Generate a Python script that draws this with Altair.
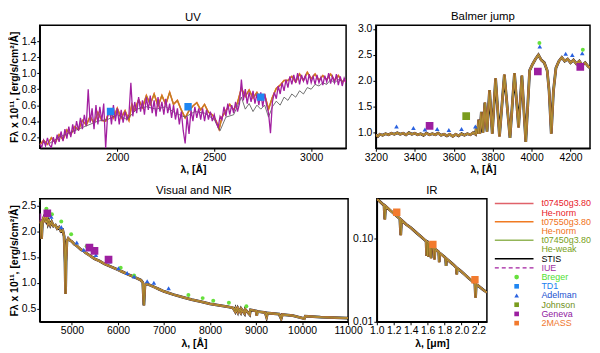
import altair as alt
import pandas as pd

FONT = "Liberation Sans"

# ---------------- colours ----------------
C_RED = "#e0626a"
C_ORANGE = "#f07a22"
C_GREEN = "#93b558"
C_STIS = "#000000"
C_IUE = "#a21fa0"
C_BREGER = "#66e03c"
C_TD1 = "#1f86f2"
C_ADEL = "#2a62e0"
C_JOHN = "#7a9c1e"
C_GENEVA = "#9c1fa0"
C_2MASS = "#f27a2e"

# ---------------- UV panel data ----------------
uv_iue_wl = [1600, 1610, 1620, 1630, 1640, 1650, 1660, 1670, 1680, 1690, 1700, 1710, 1720, 1730, 1740,
             1750, 1760, 1770, 1780, 1790, 1800, 1810, 1820, 1830, 1840, 1850, 1860, 1870, 1880, 1890,
             1900, 1910, 1920, 1930, 1940, 1950, 1960, 1970, 1980, 1990, 2000, 2010, 2020, 2030, 2040,
             2050, 2060, 2070, 2080, 2090, 2100, 2110, 2120, 2130, 2140, 2150, 2160, 2170, 2180, 2190,
             2200, 2210, 2220, 2230, 2240, 2250, 2260, 2270, 2280, 2290, 2300, 2310, 2320, 2330, 2340,
             2350, 2360, 2370, 2380, 2390, 2400, 2410, 2420, 2430, 2440, 2450, 2460, 2470, 2480, 2490,
             2500, 2510, 2520, 2530, 2540, 2550, 2560, 2570, 2580, 2590, 2600, 2610, 2620, 2630, 2640,
             2650, 2660, 2670, 2680, 2690, 2700, 2710, 2720, 2730, 2740, 2750, 2760, 2770, 2780, 2790,
             2800, 2810, 2820, 2830, 2840, 2850, 2860, 2870, 2880, 2890, 2900, 2910, 2920, 2930, 2940,
             2950, 2960, 2970, 2980, 2990, 3000, 3010, 3020, 3030, 3040, 3050, 3060, 3070, 3080, 3090,
             3100, 3110, 3120, 3130, 3140, 3150, 3160, 3170, 3180]
uv_iue_f = [0.12, 0.07, 0.16, 0.09, 0.19, 0.10, 0.07, 0.20, 0.11, 0.23, 0.14, 0.27, 0.15, 0.30, 0.18,
            0.33, 0.20, 0.36, 0.24, 0.40, 0.28, 0.44, 0.30, 0.48, 0.34, 0.80, 0.38, 0.56, 0.30, 0.60,
            0.36, 0.58, 0.40, 0.62, 0.06, 0.48, 0.56, 0.36, 0.60, 0.40, 0.56, 0.36, 0.54, 0.38, 0.52,
            0.42, 0.48, 0.88, 0.46, 0.64, 0.50, 0.70, 0.52, 0.66, 0.48, 0.70, 0.54, 0.72, 0.50, 0.66,
            0.46, 0.70, 0.52, 0.64, 0.48, 0.68, 0.50, 0.62, 0.44, 0.60, 0.42, 0.56, 0.36, 0.52, 0.28,
            0.12, 0.46, 0.24, 0.54, 0.40, 0.58, 0.44, 0.56, 0.42, 0.56, 0.40, 0.54, 0.42, 0.52, 0.40,
            0.48, 0.38, 0.32, 0.46, 0.42, 0.58, 0.46, 0.62, 0.48, 0.60, 0.50, 0.64, 0.52, 0.62, 0.92,
            0.66, 0.80, 0.62, 0.76, 0.64, 0.78, 0.62, 0.74, 0.60, 0.76, 0.58, 0.74, 0.60, 0.50, 0.25,
            0.64, 0.76, 0.68, 0.84, 0.74, 0.88, 0.78, 0.92, 0.82, 0.96, 0.86, 0.98, 0.88, 1.00, 0.86,
            0.98, 0.90, 0.97, 0.86, 0.99, 0.88, 0.96, 0.86, 0.98, 0.88, 0.95, 0.85, 0.97, 0.89, 1.00,
            0.87, 0.96, 0.88, 0.99, 0.85, 0.96, 0.84, 0.94, 0.88]

uv_model_wl = [1600, 1620, 1640, 1660, 1680, 1700, 1720, 1740, 1760, 1780, 1800, 1820, 1840, 1860, 1880,
               1900, 1920, 1940, 1960, 1980, 2000, 2020, 2040, 2060, 2075, 2090, 2110, 2130, 2150, 2170,
               2190, 2210, 2230, 2250, 2270, 2290, 2310, 2330, 2350, 2370, 2390, 2410, 2430, 2450, 2470,
               2490, 2510, 2525, 2540, 2560, 2580, 2600, 2620, 2640, 2660, 2680, 2700, 2720, 2740, 2760,
               2780, 2800, 2820, 2840, 2860, 2880, 2900, 2920, 2940, 2960, 2980, 3000, 3020, 3040, 3060,
               3080, 3100, 3120, 3140, 3160, 3180]
uv_model_f = [0.10, 0.16, 0.11, 0.19, 0.13, 0.23, 0.17, 0.29, 0.23, 0.33, 0.29, 0.41, 0.35, 0.46, 0.37,
              0.51, 0.41, 0.40, 0.53, 0.44, 0.56, 0.44, 0.53, 0.41, 0.61, 0.54, 0.67, 0.57, 0.72, 0.61,
              0.74, 0.59, 0.72, 0.61, 0.76, 0.61, 0.66, 0.54, 0.44, 0.53, 0.59, 0.63, 0.54, 0.61, 0.51,
              0.48, 0.40, 0.30, 0.45, 0.53, 0.61, 0.54, 0.63, 0.81, 0.71, 0.79, 0.69, 0.76, 0.67, 0.73,
              0.55, 0.70, 0.81, 0.85, 0.91, 0.91, 0.96, 0.89, 0.99, 0.91, 1.01, 0.93, 0.99, 0.91, 0.97,
              0.92, 0.99, 0.91, 0.97, 0.89, 0.92]

uv_stis_wl = [1650, 1700, 1750, 1800, 1850, 1900, 1950, 2000, 2050, 2100, 2150, 2200, 2250, 2300, 2350,
              2400, 2450, 2500, 2530, 2560, 2600, 2640, 2660, 2680, 2700, 2720, 2740, 2760, 2780, 2800,
              2820, 2840, 2860, 2880, 2900, 2920, 2940, 2960, 2980, 3000, 3020, 3040, 3060, 3080, 3100,
              3120, 3140, 3160, 3180]
uv_stis_f = [0.12, 0.20, 0.25, 0.30, 0.35, 0.40, 0.42, 0.48, 0.42, 0.55, 0.58, 0.55, 0.58, 0.50, 0.45,
             0.52, 0.50, 0.42, 0.28, 0.45, 0.48, 0.70, 0.55, 0.62, 0.52, 0.60, 0.55, 0.60, 0.45, 0.58,
             0.65, 0.60, 0.70, 0.66, 0.74, 0.70, 0.78, 0.74, 0.82, 0.80, 0.86, 0.84, 0.88, 0.86, 0.92,
             0.88, 0.92, 0.90, 0.93]

# ---------------- Balmer jump panel data ----------------
bj_model_wl = [3200, 3210, 3220, 3235, 3250, 3265, 3280, 3295, 3310, 3325, 3340, 3355, 3370, 3385, 3400,
               3415, 3430, 3445, 3460, 3475, 3490, 3505, 3520, 3535, 3550, 3565, 3580, 3595, 3610, 3625,
               3640, 3655, 3670, 3685, 3700, 3712, 3717, 3722, 3728, 3734, 3742, 3750, 3760, 3771, 3784,
               3798, 3815, 3835, 3860, 3889, 3912, 3933, 3950, 3970, 3990, 4005, 4020, 4035, 4050, 4065,
               4080, 4090, 4101, 4112, 4125, 4140, 4155, 4170, 4185, 4200, 4215, 4230, 4245, 4260, 4275,
               4290, 4300]
bj_model_f = [0.96, 0.93, 0.97, 0.95, 0.98, 0.96, 0.99, 0.97, 1.00, 0.97, 0.99, 0.96, 1.00, 0.97, 0.99,
              0.96, 0.98, 0.95, 0.99, 0.96, 0.98, 0.96, 0.99, 0.95, 0.97, 0.94, 0.97, 0.93, 0.97, 0.94,
              0.98, 0.95, 0.98, 0.96, 1.00, 0.97, 1.12, 0.98, 1.25, 0.98, 1.40, 1.00, 1.58, 1.02, 1.82,
              0.98, 2.05, 0.93, 2.12, 0.90, 2.15, 1.10, 2.10, 0.82, 2.20, 2.32, 2.42, 2.50, 2.40, 2.35,
              2.20, 1.80, 0.98, 1.80, 2.25, 2.38, 2.45, 2.38, 2.42, 2.35, 2.40, 2.33, 2.38, 2.30, 2.35,
              2.28, 2.25]

# ---------------- Visual and NIR panel data ----------------
vis_model_wl = [4300, 4320, 4340, 4360, 4380, 4400, 4420, 4440, 4460, 4480, 4500, 4530, 4560, 4600, 4640,
                4680, 4720, 4760, 4800, 4830, 4850, 4861, 4872, 4890, 4920, 4960, 5000, 5050, 5100, 5150,
                5200, 5250, 5300, 5350, 5400, 5450, 5500, 5600, 5700, 5800, 5900, 6000, 6100, 6200, 6300,
                6400, 6500, 6540, 6563, 6585, 6620, 6700, 6800, 6900, 7000, 7200, 7400, 7600, 7800, 8000,
                8200, 8400, 8500, 8545, 8560, 8598, 8610, 8665, 8680, 8750, 8765, 8862, 8880, 9000, 9015,
                9030, 9200, 9229, 9250, 9500, 9546, 9570, 9800, 10049, 10070, 10400, 10700, 11000]
vis_model_f = [2.15, 2.22, 1.85, 2.20, 2.25, 2.18, 2.25, 2.20, 2.25, 2.15, 2.20, 2.12, 2.18, 2.10, 2.12,
               2.05, 2.08, 2.00, 2.02, 1.90, 1.40, 0.78, 1.40, 1.80, 1.86, 1.82, 1.80, 1.75, 1.72, 1.68,
               1.64, 1.62, 1.58, 1.55, 1.52, 1.49, 1.46, 1.42, 1.37, 1.33, 1.29, 1.25, 1.21, 1.17, 1.13,
               1.09, 1.05, 1.00, 0.56, 0.95, 0.98, 0.95, 0.91, 0.87, 0.83, 0.77, 0.72, 0.67, 0.63, 0.59,
               0.56, 0.53, 0.51, 0.44, 0.50, 0.43, 0.50, 0.42, 0.49, 0.40, 0.48, 0.38, 0.47, 0.45, 0.36,
               0.44, 0.42, 0.33, 0.41, 0.39, 0.30, 0.38, 0.36, 0.30, 0.35, 0.33, 0.32, 0.31]

# ---------------- IR panel data (micron) ----------------
ir_model_wl = [1.00, 1.05, 1.085, 1.094, 1.103, 1.15, 1.20, 1.25, 1.272, 1.282, 1.292, 1.35, 1.40, 1.45,
               1.50, 1.55, 1.582, 1.588, 1.594, 1.605, 1.611, 1.617, 1.635, 1.641, 1.647, 1.675, 1.681,
               1.687, 1.731, 1.737, 1.743, 1.80, 1.812, 1.818, 1.824, 1.90, 1.938, 1.944, 1.950, 2.00,
               2.05, 2.10, 2.158, 2.166, 2.174, 2.20, 2.25, 2.30]
ir_model_f = [0.300, 0.270, 0.250, 0.170, 0.245, 0.222, 0.200, 0.181, 0.173, 0.110, 0.166, 0.147, 0.135,
              0.122, 0.110, 0.0996, 0.093, 0.062, 0.091, 0.089, 0.060, 0.087, 0.083, 0.058, 0.081, 0.077,
              0.056, 0.075, 0.069, 0.052, 0.067, 0.060, 0.058, 0.047, 0.057, 0.049, 0.045, 0.037, 0.044,
              0.040, 0.036, 0.0325, 0.029, 0.0195, 0.028, 0.027, 0.0245, 0.0225]

# ---------------- photometry ----------------
td1_wl = [1965, 2365, 2740]
td1_f = [0.52, 0.58, 0.70]

breger_wl = [4040, 4263, 4445, 4565, 4768, 4983, 5320, 6060, 6350, 7530, 7840, 8070, 8410, 8790]
breger_f = [2.73, 2.60, 2.44, 2.33, 2.19, 1.94, 1.71, 1.29, 1.14, 0.76, 0.70, 0.65, 0.61, 0.54]

adel_wl = [3306, 3393, 3452, 3515, 3575, 3640, 3711, 4042, 4175, 4209, 4260,
           4550, 4768, 5105, 5255, 5520, 5810, 6010, 6200, 6350, 6635, 6780, 7100]
adel_f = [1.12, 1.09, 1.06, 1.07, 1.05, 1.07, 1.12, 2.66, 2.52, 2.50, 2.53,
          2.28, 2.08, 1.78, 1.64, 1.54, 1.41, 1.28, 1.19, 1.12, 1.03, 1.00, 0.89]

johnson_wl = [3664]
johnson_f = [1.32]

geneva_wl = [3476, 4032, 4250, 4465, 5380, 5490, 5795]
geneva_f = [1.13, 2.18, 2.27, 2.35, 1.68, 1.62, 1.45]

tmass_wl = [1.235, 1.662, 2.159]
tmass_f = [0.207, 0.085, 0.032]

# ---------------- legend ----------------
leg_label = ["t07450g3.80", "He-norm", "t07550g3.80", "He-norm", "t07450g3.80", "He-weak",
             "STIS", "IUE", "Breger", "TD1", "Adelman", "Johnson", "Geneva", "2MASS"]
leg_text_color = ["#e8202a", "#e8202a", "#f07018", "#f07018", "#78a020", "#78a020",
                  "#000000", "#a030a0", "#50e030", "#2080f0", "#2050d0", "#709020", "#9020a0", "#f07830"]
leg_kind = ["line", "none", "line", "none", "line", "none", "line", "dash",
            "circle", "square", "triangle-up", "square", "square", "square"]
leg_sym_color = [C_RED, C_RED, C_ORANGE, C_ORANGE, C_GREEN, C_GREEN, C_STIS, C_IUE,
                 C_BREGER, C_TD1, C_ADEL, C_JOHN, C_GENEVA, C_2MASS]

YTITLE = "F\u03bb x 10\u00b9\u00b9, [erg/s/cm\u00b2/\u00c5]"


def df_of(wl, f):
    return pd.DataFrame({"wl": wl, "flux": f})


def line(wl, f, X, Y, color, width, opacity=1.0):
    return alt.Chart(df_of(wl, f)).mark_line(
        color=color, strokeWidth=width, opacity=opacity, clip=True
    ).encode(x=X, y=Y)


def pts(wl, f, X, Y, shape, color, size):
    return alt.Chart(df_of(wl, f)).mark_point(
        shape=shape, filled=True, color=color, size=size, opacity=1, clip=True
    ).encode(x=X, y=Y)


def models(wl, f, X, Y):
    return [
        line(wl, f, X, Y, C_STIS, 2.8, 0.9),
        line(wl, f, X, Y, C_RED, 1.8),
        line(wl, f, X, Y, C_ORANGE, 1.8),
        line(wl, f, X, Y, C_GREEN, 1.8, 0.55),
        line(wl, f, X, Y, "#5a4200", 0.7, 0.45),
    ]


def ttl(t):
    return alt.TitleParams(t, font=FONT, fontSize=11.5, fontWeight="normal", offset=2, anchor="middle")


# ---- UV ----
Xuv = alt.X("wl:Q", scale=alt.Scale(domain=[1600, 3180], nice=False, zero=False),
            axis=alt.Axis(values=[2000, 2500, 3000], format="d", title="\u03bb, [\u00c5]"))
Yuv = alt.Y("flux:Q", scale=alt.Scale(domain=[0.06, 1.6], nice=False, zero=False),
            axis=alt.Axis(values=[0.2, 0.4, 0.6, 0.8, 1.0, 1.2, 1.4], format=".1f", title=YTITLE))
uv = alt.layer(
    line(uv_model_wl, uv_model_f, Xuv, Yuv, C_RED, 1.5),
    line(uv_model_wl, uv_model_f, Xuv, Yuv, C_ORANGE, 1.5),
    line(uv_model_wl, uv_model_f, Xuv, Yuv, "#a08a20", 1.0, 0.7),
    line(uv_stis_wl, uv_stis_f, Xuv, Yuv, "#505050", 0.8),
    line(uv_iue_wl, uv_iue_f, Xuv, Yuv, C_IUE, 1.3),
    pts(td1_wl, td1_f, Xuv, Yuv, "square", C_TD1, 55),
).properties(width=309, height=124, title=ttl("UV"))

# ---- Balmer jump ----
Xbj = alt.X("wl:Q", scale=alt.Scale(domain=[3200, 4300], nice=False, zero=False),
            axis=alt.Axis(values=[3200, 3400, 3600, 3800, 4000, 4200], format="d", title="\u03bb, [\u00c5]"))
Ybj = alt.Y("flux:Q", scale=alt.Scale(domain=[0.7, 3.07], nice=False, zero=False),
            axis=alt.Axis(values=[1.0, 1.5, 2.0, 2.5, 3.0], format=".1f", title=None))
bj = alt.layer(
    *models(bj_model_wl, bj_model_f, Xbj, Ybj),
    pts(adel_wl, adel_f, Xbj, Ybj, "triangle-up", C_ADEL, 22),
    pts(breger_wl, breger_f, Xbj, Ybj, "circle", C_BREGER, 16),
    pts(geneva_wl, geneva_f, Xbj, Ybj, "square", C_GENEVA, 60),
    pts(johnson_wl, johnson_f, Xbj, Ybj, "square", C_JOHN, 60),
).properties(width=216, height=124, title=ttl("Balmer jump"))

# ---- Visual and NIR ----
Xvis = alt.X("wl:Q", scale=alt.Scale(domain=[4300, 11000], nice=False, zero=False),
             axis=alt.Axis(values=[5000, 6000, 7000, 8000, 9000, 10000, 11000], format="d",
                           title="\u03bb, [\u00c5]"))
Yvis = alt.Y("flux:Q", scale=alt.Scale(domain=[0.24, 2.63], nice=False, zero=False),
             axis=alt.Axis(values=[0.5, 1.0, 1.5, 2.0, 2.5], format=".1f", title=YTITLE))
vis = alt.layer(
    *models(vis_model_wl, vis_model_f, Xvis, Yvis),
    pts(breger_wl, breger_f, Xvis, Yvis, "circle", C_BREGER, 16),
    pts(adel_wl, adel_f, Xvis, Yvis, "triangle-up", C_ADEL, 22),
    pts(geneva_wl, geneva_f, Xvis, Yvis, "square", C_GENEVA, 60),
).properties(width=311, height=124, title=ttl("Visual and NIR"))

# ---- IR ----
Xir = alt.X("wl:Q", scale=alt.Scale(domain=[1.0, 2.3], nice=False, zero=False),
            axis=alt.Axis(values=[1.0, 1.2, 1.4, 1.6, 1.8, 2.0, 2.2], format=".1f",
                          labelOverlap=False, title="\u03bb, [\u03bcm]"))
Yir = alt.Y("flux:Q", scale=alt.Scale(type="log", domain=[0.01, 0.3], nice=False),
            axis=alt.Axis(values=[0.01, 0.1], format=".2f", title=None))
ir = alt.layer(
    *models(ir_model_wl, ir_model_f, Xir, Yir),
    pts(tmass_wl, tmass_f, Xir, Yir, "square", C_2MASS, 55),
).properties(width=111, height=124, title=ttl("IR"))

# ---- legend panel (placed 29px right of IR frame; marks offset back to the left) ----
leg_df = pd.DataFrame({
    "row": list(range(len(leg_label))),
    "label": leg_label,
    "tcolor": leg_text_color,
    "kind": leg_kind,
    "scolor": leg_sym_color,
})
Yleg = alt.Y("row:Q", scale=alt.Scale(domain=[-0.5, 13.5], reverse=True, nice=False, zero=False), axis=None)
leg_base = alt.Chart(leg_df)
leg_text = leg_base.mark_text(align="left", baseline="middle", font=FONT, fontSize=9).encode(
    x=alt.value(26), y=Yleg, text="label:N", color=alt.Color("tcolor:N", scale=None))
leg_lines = leg_base.transform_filter(alt.datum.kind == "line").mark_rule(strokeWidth=1.5).encode(
    x=alt.value(-21), x2=alt.value(18), y=Yleg, color=alt.Color("scolor:N", scale=None))
leg_dash = leg_base.transform_filter(alt.datum.kind == "dash").mark_rule(strokeWidth=1.2, strokeDash=[4, 3]).encode(
    x=alt.value(-21), x2=alt.value(18), y=Yleg, color=alt.Color("scolor:N", scale=None))
leg_pts = leg_base.transform_filter(
    "datum.kind == 'circle' || datum.kind == 'square' || datum.kind == 'triangle-up'"
).mark_point(filled=True, size=22, opacity=1).encode(
    x=alt.value(1), y=Yleg, shape=alt.Shape("kind:N", scale=None), color=alt.Color("scolor:N", scale=None))
legend = alt.layer(leg_lines, leg_dash, leg_pts, leg_text).properties(
    width=76, height=130, view=alt.ViewBackground(strokeOpacity=0))

top = alt.hconcat(uv, bj, spacing=30, bounds="flush")
bottom = alt.hconcat(vis, ir, legend, spacing=29, bounds="flush")

chart = alt.vconcat(top, bottom, spacing=8).properties(
    padding={"left": 0, "top": 0, "right": 0, "bottom": 0}
).configure_axis(
    labelFont=FONT, titleFont=FONT, labelFontSize=10.5, titleFontSize=10.5,
    labelColor="black", titleColor="black", domainColor="black", tickColor="black",
    grid=False, tickSize=3, labelPadding=1, titlePadding=2, labelFlush=False, domainWidth=1.5,
).configure_view(stroke="black", strokeWidth=1.5).configure_title(color="black")

chart.save("out.html", embed_options={"renderer": "svg", "actions": False})
